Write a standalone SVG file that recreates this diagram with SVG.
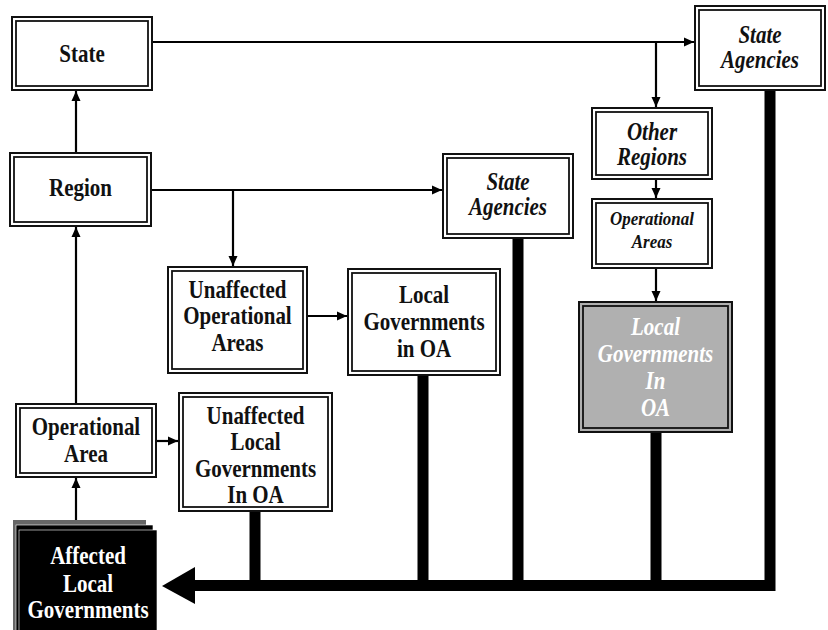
<svg xmlns="http://www.w3.org/2000/svg" width="828" height="630" viewBox="0 0 828 630">
<style>
.o{fill:#fff;stroke:#111;stroke-width:2}
.i{fill:none;stroke:#111;stroke-width:1.8}
.t{font-family:"Liberation Serif","Times New Roman",serif;font-weight:bold;font-size:21px;fill:#111;text-anchor:middle}
.it{font-style:italic}
.w{fill:#fff}
.ln{stroke:#000;stroke-width:2.2;fill:none}
.tk{stroke:#000;stroke-width:11;fill:none}
</style>
<defs>
<marker id="ah" viewBox="0 0 10 10" refX="10" refY="5" markerWidth="10" markerHeight="10" markerUnits="userSpaceOnUse" orient="auto">
<path d="M0,0.5 L10,5 L0,9.5 Z" fill="#000"/>
</marker>
</defs>
<g id="connectors">
<line class="ln" x1="76" y1="153" x2="76" y2="91" marker-end="url(#ah)"/>
<line class="ln" x1="76" y1="404" x2="76" y2="227" marker-end="url(#ah)"/>
<line class="ln" x1="76" y1="522" x2="76" y2="478" marker-end="url(#ah)"/>
<line class="ln" x1="152" y1="42" x2="694" y2="42" marker-end="url(#ah)"/>
<line class="ln" x1="656" y1="42" x2="656" y2="107" marker-end="url(#ah)"/>
<line class="ln" x1="656" y1="179" x2="656" y2="198" marker-end="url(#ah)"/>
<line class="ln" x1="656" y1="268" x2="656" y2="301" marker-end="url(#ah)"/>
<line class="ln" x1="151" y1="190" x2="442" y2="190" marker-end="url(#ah)"/>
<line class="ln" x1="233" y1="190" x2="233" y2="266" marker-end="url(#ah)"/>
<line class="ln" x1="307" y1="316" x2="347" y2="316" marker-end="url(#ah)"/>
<line class="ln" x1="150" y1="441" x2="178" y2="441" marker-end="url(#ah)"/>
<line class="tk" x1="255" y1="511" x2="255" y2="586"/>
<line class="tk" x1="423" y1="375" x2="423" y2="586"/>
<line class="tk" x1="518" y1="238" x2="518" y2="586"/>
<line class="tk" x1="656" y1="432" x2="656" y2="586"/>
<path class="tk" d="M770,90 V585.5 H193" stroke-linejoin="miter" stroke-width="11"/>
<polygon points="162,586 195,567 195,604" fill="#000"/>
</g>
<g id="state">
<rect class="o" x="12" y="17" width="140" height="73"/>
<rect class="i" x="16" y="21" width="132" height="65"/>
<text class="t" transform="translate(82,62) scale(1,1.15)">State</text>
</g>
<g id="region">
<rect class="o" x="10" y="153" width="141" height="73"/>
<rect class="i" x="14" y="157" width="133" height="65"/>
<text class="t" transform="translate(80.5,196) scale(1,1.15)">Region</text>
</g>
<g id="state-agencies-top">
<rect class="o" x="695" y="6" width="130" height="84"/>
<rect class="i" x="699" y="10" width="122" height="76"/>
<text class="t it" transform="translate(760,43) scale(1,1.15)"><tspan x="0" y="0">State</tspan><tspan x="0" y="22">Agencies</tspan></text>
</g>
<g id="other-regions">
<rect class="o" x="592" y="108" width="120" height="71"/>
<rect class="i" x="596" y="112" width="112" height="63"/>
<text class="t it" transform="translate(652,140) scale(1,1.15)"><tspan x="0" y="0">Other</tspan><tspan x="0" y="22">Regions</tspan></text>
</g>
<g id="operational-areas">
<rect class="o" x="592" y="199" width="120" height="69"/>
<rect class="i" x="596" y="203" width="112" height="61"/>
<text class="t it" style="font-size:17px" transform="translate(652,225) scale(1,1.15)"><tspan x="0" y="0">Operational</tspan><tspan x="0" y="20">Areas</tspan></text>
</g>
<g id="local-gov-gray">
<rect class="o" x="579" y="302" width="153" height="130" style="fill:#b0b0b0"/>
<rect class="i" x="583" y="306" width="145" height="122"/>
<text class="t it w" transform="translate(655.5,335) scale(1,1.15)"><tspan x="0" y="0">Local</tspan><tspan x="0" y="23.5">Governments</tspan><tspan x="0" y="47">In</tspan><tspan x="0" y="70.5">OA</tspan></text>
</g>
<g id="state-agencies-mid">
<rect class="o" x="443" y="154" width="130" height="84"/>
<rect class="i" x="447" y="158" width="122" height="76"/>
<text class="t it" transform="translate(508,190) scale(1,1.15)"><tspan x="0" y="0">State</tspan><tspan x="0" y="22">Agencies</tspan></text>
</g>
<g id="unaffected-op-areas">
<rect class="o" x="168" y="267" width="139" height="106"/>
<rect class="i" x="172" y="271" width="131" height="98"/>
<text class="t" transform="translate(237.5,298) scale(1,1.15)"><tspan x="0" y="0">Unaffected</tspan><tspan x="0" y="23">Operational</tspan><tspan x="0" y="46">Areas</tspan></text>
</g>
<g id="local-gov-oa">
<rect class="o" x="348" y="269" width="152" height="106"/>
<rect class="i" x="352" y="273" width="144" height="98"/>
<text class="t" transform="translate(424,303) scale(1,1.15)"><tspan x="0" y="0">Local</tspan><tspan x="0" y="23.5">Governments</tspan><tspan x="0" y="47">in OA</tspan></text>
</g>
<g id="operational-area">
<rect class="o" x="16" y="404" width="140" height="73"/>
<rect class="i" x="20" y="408" width="132" height="65"/>
<text class="t" transform="translate(86,435) scale(1,1.15)"><tspan x="0" y="0">Operational</tspan><tspan x="0" y="23.5">Area</tspan></text>
</g>
<g id="unaffected-local-gov">
<rect class="o" x="179" y="393" width="153" height="118"/>
<rect class="i" x="183" y="397" width="145" height="110"/>
<text class="t" transform="translate(255.5,424) scale(1,1.15)"><tspan x="0" y="0">Unaffected</tspan><tspan x="0" y="23">Local</tspan><tspan x="0" y="46">Governments</tspan><tspan x="0" y="69">In OA</tspan></text>
</g>
<g id="affected-local-gov">
<rect x="13" y="520" width="133" height="112" fill="#666"/>
<rect x="16" y="525" width="137" height="110" fill="#000" stroke="#fff" stroke-width="0.6"/>
<rect x="19" y="530" width="138" height="105" fill="#000" stroke="#fff" stroke-width="0.6"/>
<text class="t w" transform="translate(88,564) scale(1,1.15)"><tspan x="0" y="0">Affected</tspan><tspan x="0" y="24">Local</tspan><tspan x="0" y="47">Governments</tspan></text>
</g>
</svg>
